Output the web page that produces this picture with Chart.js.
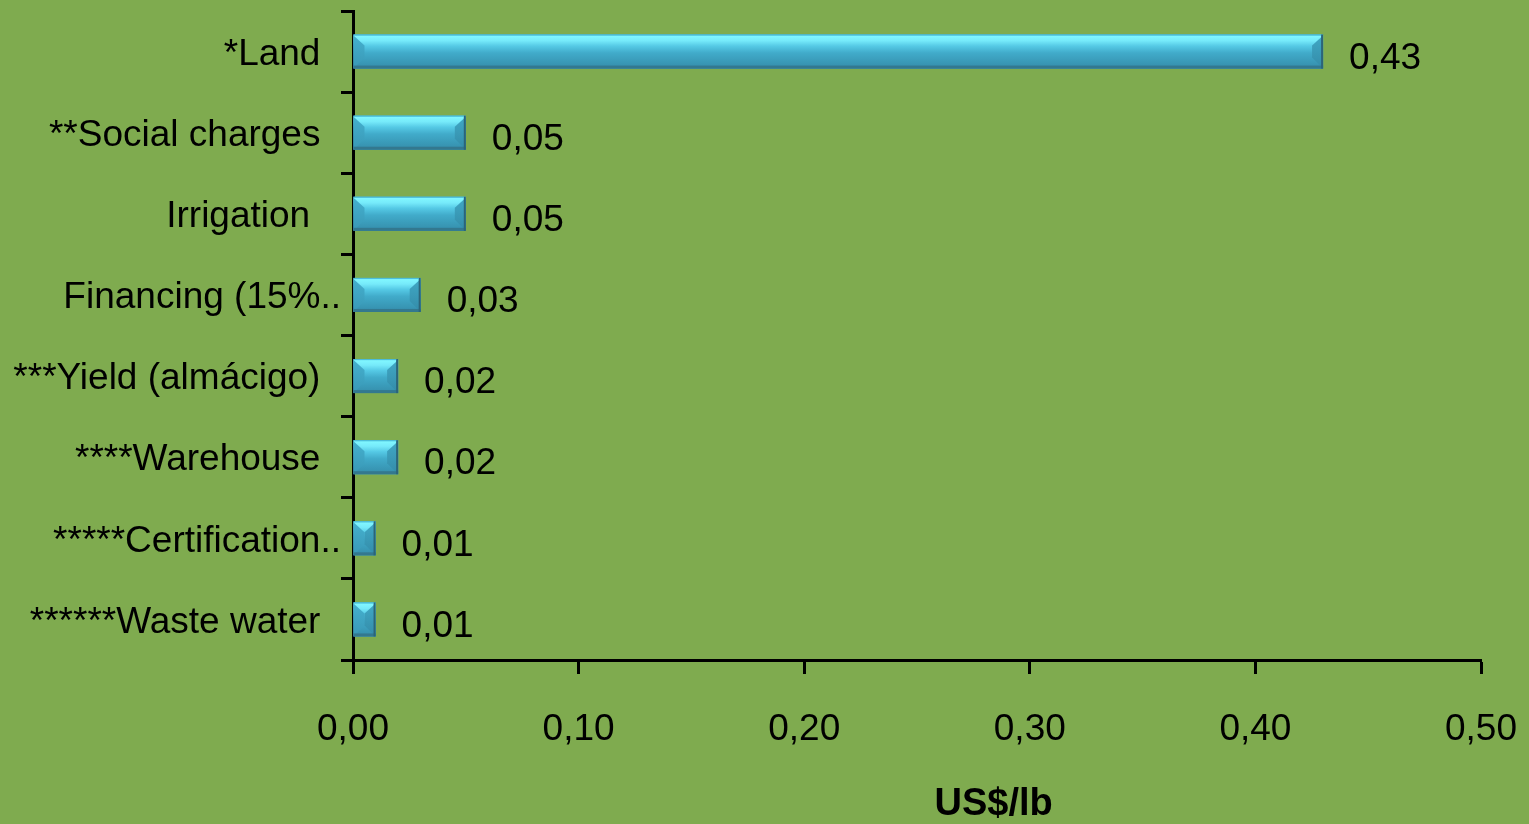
<!DOCTYPE html>
<html>
<head>
<meta charset="utf-8">
<title>Cost items, US$/lb</title>
<script src="https://cdn.jsdelivr.net/npm/chart.js@4/dist/chart.umd.min.js"></script>
<style>
  html, body { margin: 0; padding: 0; background: #7fab4f; }
  #chart { display: block; }
</style>
</head>
<body>
<canvas id="chart" width="1529" height="824"></canvas>
<script>
// Cost items (trailing spaces keep the category labels' original alignment)
const categories = [
  '*Land  ',
  '**Social charges  ',
  'Irrigation   ',
  'Financing (15%..',
  '***Yield (almácigo)  ',
  '****Warehouse  ',
  '*****Certification..',
  '******Waste water  '
];
// Cost per pound, US$
const costs = [0.43, 0.05, 0.05, 0.03, 0.02, 0.02, 0.01, 0.01];
// Horizontal axis
const axisMin = 0;
const axisMax = 0.5;
const axisStep = 0.1;
const tickLabels = ['0,00', '0,10', '0,20', '0,30', '0,40', '0,50'];
const axisTitle = 'US$/lb';

const FONT = "'Liberation Sans', Arial, sans-serif";
const BG = '#7fab4f';

const fmt = v => v.toFixed(2).replace('.', ',');

// Plain background fill
const backgroundPlugin = {
  id: 'background',
  beforeDraw(chart) {
    const { ctx, width, height } = chart;
    ctx.save();
    ctx.fillStyle = BG;
    ctx.fillRect(0, 0, width, height);
    ctx.restore();
  }
};

// Beveled look for each bar, drawn over the elements laid out by Chart.js
function poly(ctx, pts) {
  ctx.beginPath();
  ctx.moveTo(pts[0], pts[1]);
  for (let i = 2; i < pts.length; i += 2) ctx.lineTo(pts[i], pts[i + 1]);
  ctx.closePath();
  ctx.fill();
}

const bevelPlugin = {
  id: 'bevelBars',
  afterDatasetsDraw(chart) {
    const ctx = chart.ctx;
    const meta = chart.getDatasetMeta(0);
    ctx.save();
    meta.data.forEach(el => {
      const p = el.getProps(['x', 'y', 'base', 'height'], true);
      const L = Math.min(p.base, p.x), R = Math.max(p.base, p.x);
      const T = p.y - p.height / 2, B = p.y + p.height / 2;
      const w = R - L, h = B - T;
      const b = Math.min(11, w / 2, h / 2);

      const face = ctx.createLinearGradient(0, T, 0, B);
      face.addColorStop(0.00, '#4fc2de');
      face.addColorStop(0.05, '#80f6ff');
      face.addColorStop(0.18, '#76eafa');
      face.addColorStop(0.34, '#55c9e5');
      face.addColorStop(0.54, '#41abca');
      face.addColorStop(0.78, '#3a9bb9');
      face.addColorStop(1.00, '#358daa');
      ctx.fillStyle = face;
      ctx.fillRect(L, T, w, h);

      const left = ctx.createLinearGradient(0, T, 0, B);
      left.addColorStop(0, '#45b1cf');
      left.addColorStop(1, '#3998b6');
      ctx.fillStyle = left;
      poly(ctx, [L, T + 1, L + b, T + b, L + b, B - b, L, B]);

      const right = ctx.createLinearGradient(0, T, 0, B);
      right.addColorStop(0, '#41a9c6');
      right.addColorStop(1, '#338ba8');
      ctx.fillStyle = right;
      poly(ctx, [R, T + 1, R - b, T + b, R - b, B - b, R, B]);

      // darker lower and right edges, thin top edge
      ctx.fillStyle = '#33788f';
      ctx.fillRect(L, B - 3, w, 3);
      ctx.fillStyle = '#2c6479';
      ctx.fillRect(R - 2, T, 2, h);
      ctx.fillStyle = '#4cbcd9';
      ctx.fillRect(L, T, w - 2, 1);
    });
    ctx.restore();
  }
};

// Value labels beside each bar
const valueLabelPlugin = {
  id: 'valueLabels',
  afterDatasetsDraw(chart) {
    const ctx = chart.ctx;
    const meta = chart.getDatasetMeta(0);
    ctx.save();
    ctx.font = `37px ${FONT}`;
    ctx.fillStyle = '#000';
    ctx.textAlign = 'left';
    ctx.textBaseline = 'middle';
    meta.data.forEach((el, i) => {
      const p = el.getProps(['x', 'y'], true);
      ctx.fillText(fmt(costs[i]), p.x + 26, p.y + 7);
    });
    ctx.restore();
  }
};

// Axis title under the value axis
const axisTitlePlugin = {
  id: 'axisTitle',
  afterDraw(chart) {
    const { ctx, chartArea } = chart;
    ctx.save();
    ctx.font = `bold 38px ${FONT}`;
    ctx.fillStyle = '#000';
    ctx.textAlign = 'center';
    ctx.textBaseline = 'middle';
    const cx = chartArea.left + (chartArea.right - chartArea.left) * 0.568;
    ctx.fillText(axisTitle, cx, chart.height - 19);
    ctx.restore();
  }
};

new Chart(document.getElementById('chart'), {
  type: 'bar',
  data: {
    labels: categories,
    datasets: [{
      data: costs,
      backgroundColor: '#3fa7c5',
      borderWidth: 0,
      categoryPercentage: 1,
      barPercentage: 0.42
    }]
  },
  options: {
    indexAxis: 'y',
    responsive: false,
    animation: false,
    maintainAspectRatio: false,
    layout: { padding: { top: 11, right: 48, bottom: 0, left: 0 } },
    plugins: {
      legend: { display: false },
      tooltip: { enabled: false }
    },
    scales: {
      x: {
        min: axisMin,
        max: axisMax,
        z: 1,
        ticks: {
          stepSize: axisStep,
          color: '#000',
          font: { family: FONT, size: 37 },
          padding: 34,
          maxRotation: 0,
          autoSkip: false,
          callback: (v, i) => tickLabels[i]
        },
        grid: {
          drawOnChartArea: false,
          tickLength: 14,
          tickWidth: 3,
          tickColor: '#000'
        },
        border: { display: true, color: '#000', width: 3 },
        afterFit(scale) {
          scale.height = 164;
          scale.paddingLeft = 0;
          scale.paddingRight = 0;
        }
      },
      y: {
        z: 1,
        ticks: {
          color: '#000',
          font: { family: FONT, size: 37 },
          padding: 0,
          labelOffset: 3,
          autoSkip: false
        },
        grid: {
          drawOnChartArea: false,
          tickLength: 12,
          tickWidth: 3,
          tickColor: '#000'
        },
        border: { display: true, color: '#000', width: 3 },
        afterFit(scale) {
          scale.width = 353;
          scale.paddingTop = 0;
          scale.paddingBottom = 0;
        }
      }
    }
  },
  plugins: [backgroundPlugin, bevelPlugin, valueLabelPlugin, axisTitlePlugin]
});
</script>
</body>
</html>
